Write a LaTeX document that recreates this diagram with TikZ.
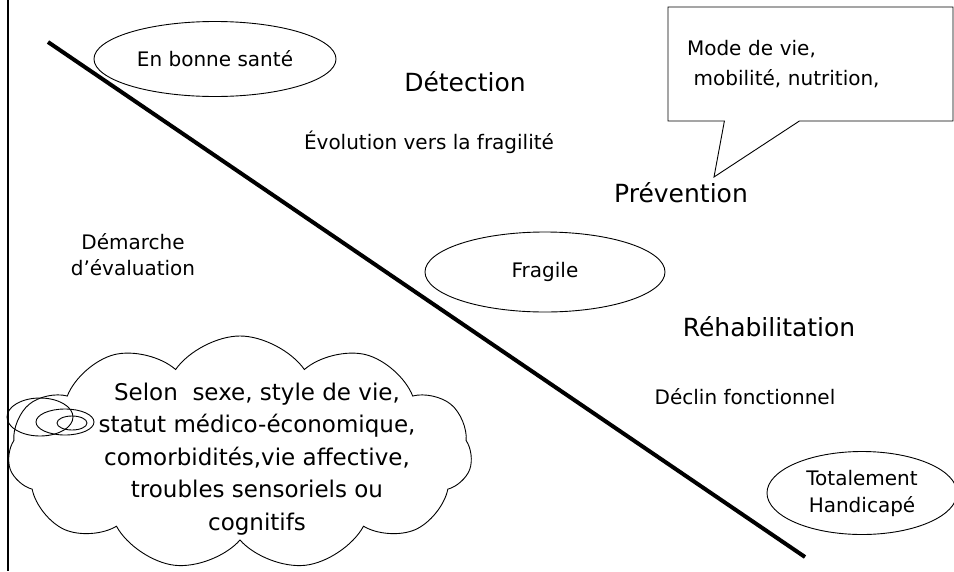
\documentclass[tikz,border=0pt]{standalone}
\usepackage{fontspec}
\setmainfont{DejaVu Sans}
\usepackage{xcolor}
\def\mycolor{black}
\usetikzlibrary{shapes,shapes.geometric,shapes.symbols,shapes.callouts,positioning}

\begin{document}
\begin{tikzpicture}[x=1pt,y=-1pt]
		\tikzset{
			etat/.style={draw=\mycolor,ellipse,line width=0.9pt,align=center,font=\fontsize{20}{24}\selectfont},
			titre/.style={font=\fontsize{25}{30}\selectfont,text=\mycolor},
			texte/.style={font=\fontsize{20}{26}\selectfont,text=\mycolor,align=center},
			axe/.style={line width=4pt,draw=\mycolor}
		}
		\useasboundingbox (0,0) rectangle (954,571);
		%% axes
		\coordinate (bordH) at (8,0);
		\coordinate (bordB) at (8,571);
		\draw[line width=2.5pt] (bordH) -- (bordB);
		\coordinate (haut) at (48,42);
		\coordinate (bas) at (805,557);
		\draw[axe] (haut) -- (bas);
		%% etats
		\node[etat,minimum width=242pt,minimum height=75pt] (sante) at (215,59) {En bonne santé};
		\node[etat,minimum width=240pt,minimum height=80pt] (fragile) at (545,272) {Fragile};
		\node[etat,minimum width=190pt,minimum height=83pt,font=\fontsize{20}{27}\selectfont] (handicap) at (862,493) {Totalement\\Handicapé};
		%% titres
		\node[titre] (detection) at (465,82) {Détection};
		\node[titre] (prevention) at (681,193) {Prévention};
		\node[titre] (rehab) at (769,327) {Réhabilitation};
		%% textes
		\node[texte] (evolution) at (429,142) {Évolution vers la fragilité};
		\node[texte] (demarche) at (133,255) {Démarche\\d’évaluation};
		\node[texte] (declin) at (745,397) {Déclin fonctionnel};
		%% bulle
		\node[draw=\mycolor,line width=0.9pt,rectangle callout,minimum width=285pt,minimum height=114pt,
			text width=247pt,inner xsep=19pt,align=left,font=\fontsize{20}{30}\selectfont,
			callout absolute pointer={(714,177)},callout pointer width=75pt] (bulle) at (810.5,64) {Mode de vie,\\ \ mobilité, nutrition,};
		%% nuage
		\node[draw=\mycolor,line width=0.9pt,cloud,cloud puffs=11,cloud puff arc=110,aspect=2,
			minimum width=464pt,minimum height=234pt] (nuage) at (240,453) {};
		\node[texte,font=\fontsize{23}{32.5}\selectfont] (facteurs) at (257,459) {Selon\ \ sexe, style de vie,\\statut médico-économique,\\comorbidités,vie affective,\\troubles sensoriels ou\\cognitifs};
		\foreach \cx/\cy/\rx/\ry in {40/417/33/19, 65/422/29/13, 72/423/15/7}{%
			\draw[line width=0.9pt] (\cx,\cy) ellipse ({\rx pt} and {\ry pt});
		}
	\end{tikzpicture}
\end{document}
